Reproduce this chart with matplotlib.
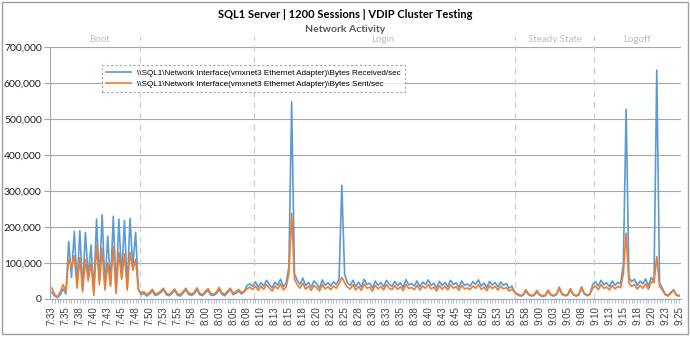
import matplotlib
matplotlib.use("Agg")
import matplotlib.pyplot as plt
from matplotlib.patches import Rectangle
from matplotlib.ticker import FuncFormatter

# samples every 30 s starting 7:33:00, values in thousands of bytes/sec
received_k = [
    18, 8, 4, 12, 28,
    14, 160, 60, 188, 40,
    190, 28, 185, 60, 150,
    18, 222, 50, 234, 30,
    175, 40, 230, 20, 222,
    60, 218, 30, 224, 90,
    185, 28, 12, 16, 8,
    14, 22, 10, 12, 18,
    26, 12, 9, 15, 24,
    11, 8, 16, 25, 13,
    10, 14, 26, 12, 9,
    17, 24, 11, 10, 15,
    27, 13, 9, 18, 26,
    12, 16, 22, 14, 20,
    38, 42, 35, 48, 33,
    45, 36, 52, 40, 31,
    47, 38, 55, 34, 44,
    90, 548, 70, 52, 41,
    58, 37, 46, 33, 50,
    42, 30, 53, 38, 45,
    36, 48, 40, 55, 316,
    68, 45, 38, 52, 35,
    47, 33, 55, 40, 44,
    31, 50, 38, 46, 34,
    52, 41, 35, 49, 37,
    45, 32, 54, 39, 43,
    36, 50, 34, 47, 40,
    53, 38, 44, 31, 49,
    37, 46, 34, 52, 40,
    45, 33, 50, 38, 42,
    35, 48, 41, 53, 36,
    44, 32, 49, 39, 46,
    34, 47, 38, 43, 30,
    36, 18, 12, 8, 10,
    22, 12, 8, 10, 20,
    10, 7, 9, 21, 11,
    8, 12, 28, 13, 9,
    10, 25, 12, 8, 11,
    30, 14, 9, 12, 40,
    48, 36, 52, 40, 45,
    34, 50, 38, 46, 42,
    95, 527, 60, 48, 55,
    38, 50, 42, 56, 36,
    60, 48, 636, 45, 30,
    14, 10, 18, 26, 12,
    10,
]

sent_k = [
    30, 12, 6, 20, 40,
    20, 110, 90, 120, 30,
    115, 20, 110, 50, 100,
    10, 150, 40, 140, 25,
    100, 35, 145, 15, 130,
    55, 125, 25, 130, 80,
    110, 25, 18, 20, 12,
    18, 27, 14, 16, 22,
    30, 16, 12, 19, 28,
    15, 12, 20, 30, 17,
    14, 18, 31, 16, 12,
    21, 29, 15, 13, 19,
    32, 17, 13, 22, 30,
    16, 20, 26, 18, 22,
    28, 33, 26, 36, 24,
    35, 27, 40, 30, 22,
    36, 28, 42, 25, 33,
    70, 238, 55, 40, 30,
    44, 27, 35, 24, 38,
    31, 22, 40, 28, 34,
    26, 36, 30, 42, 60,
    45, 33, 28, 40, 25,
    35, 24, 42, 30, 33,
    22, 38, 28, 35, 25,
    40, 30, 26, 37, 27,
    34, 23, 41, 29, 32,
    26, 38, 25, 36, 30,
    40, 28, 33, 22, 37,
    27, 35, 25, 39, 30,
    34, 24, 38, 28, 31,
    26, 36, 30, 40, 27,
    33, 23, 37, 29, 35,
    25, 36, 28, 32, 22,
    27, 20, 14, 10, 12,
    26, 14, 10, 12, 24,
    12, 9, 11, 25, 13,
    10, 14, 33, 15, 11,
    12, 29, 14, 10, 13,
    34, 16, 11, 14, 30,
    36, 26, 40, 30, 33,
    25, 38, 28, 35, 31,
    70, 183, 45, 35, 40,
    28, 38, 30, 42, 27,
    48, 45, 118, 35, 25,
    12, 8, 15, 25, 10,
    8,
]

time_labels = [
    "7:33", "7:35", "7:38", "7:40", "7:43", "7:45", "7:48", "7:50", "7:53", "7:55", "7:58",
    "8:00", "8:03", "8:05", "8:08", "8:10", "8:13", "8:15", "8:18", "8:20", "8:23", "8:25",
    "8:28", "8:30", "8:33", "8:35", "8:38", "8:40", "8:43", "8:45", "8:48", "8:50", "8:53",
    "8:55", "8:58", "9:00", "9:03", "9:05", "9:08", "9:10", "9:13", "9:15", "9:18", "9:20",
    "9:23", "9:25",
]

phase_names = ["Boot", "Login", "Steady State", "Logoff"]
phase_centers = [17.2, 118.6, 180.6, 210.0]
phase_bounds = [31.5, 72.4, 166.3, 194.3]

label_step = 5

received = [v * 1000 for v in received_k]
sent = [v * 1000 for v in sent_k]
x = list(range(len(received)))

blue = "#5B9BD5"
orange = "#ED7D31"
grid_col = "#A6A6A6"

fig = plt.figure(figsize=(6.9, 3.39), dpi=100)
ax = fig.add_axes([0.0725, 0.118, 0.9145, 0.743])

ax.plot(x, received, color=blue, lw=1.2,
        label="\\\\SQL1\\Network Interface(vmxnet3 Ethernet Adapter)\\Bytes Received/sec")
ax.plot(x, sent, color=orange, lw=1.2,
        label="\\\\SQL1\\Network Interface(vmxnet3 Ethernet Adapter)\\Bytes Sent/sec")

ax.set_xlim(-0.7, len(x) - 0.3)
ax.set_ylim(0, 700000)
ax.set_yticks(range(0, 700001, 100000))
ax.yaxis.set_major_formatter(FuncFormatter(lambda v, p: f"{int(v):,}"))
ax.grid(axis="y", color=grid_col, lw=0.8)
ax.set_axisbelow(True)

ax.set_xticks(x[::label_step])
ax.set_xticklabels(time_labels, rotation=90, fontsize=7, family="Liberation Sans", color="#404040")
ax.set_xticks(x, minor=True)
ax.tick_params(axis="x", which="both", length=3, color="#A0B4D0", width=0.6, pad=2)
ax.tick_params(axis="y", length=4, color=grid_col, labelsize=7.5, labelcolor="#202020", pad=2)
for t in ax.get_yticklabels():
    t.set_family("Lato")

for s in ["top", "right"]:
    ax.spines[s].set_visible(False)
ax.spines["left"].set_color(grid_col)
ax.spines["bottom"].set_color(grid_col)

# phase markers
for b in phase_bounds:
    ax.plot([b, b], [0, 730000], color="#D0D0D0", lw=0.9, ls=(0, (5, 4)), clip_on=False, zorder=1)
for name, c in zip(phase_names, phase_centers):
    ax.text(c, 722000, name, ha="center", va="center", fontsize=7, color="#BFBFBF", family="Lato")

leg = ax.legend(loc="upper left", bbox_to_anchor=(0.076, 0.945), frameon=True,
                fancybox=False, handlelength=3.0, borderpad=0.5, labelspacing=0.45,
                prop={"family": "Liberation Sans", "size": 5.9})
leg.get_frame().set_edgecolor("#909090")
leg.get_frame().set_linestyle((0, (2, 2)))
leg.get_frame().set_linewidth(0.8)

fig.text(0.5, 0.958, "SQL1 Server | 1200 Sessions | VDIP Cluster Testing", ha="center", va="center",
         fontsize=8, fontweight="bold", family="Lato", color="#000000")
fig.text(0.5, 0.914, "Network Activity", ha="center", va="center",
         fontsize=7.5, fontweight="bold", family="Lato", color="#595959")

fig.patches.append(Rectangle((0.003, 0.016), 0.994, 0.978, transform=fig.transFigure,
                             fill=False, ec="#A0A0A0", lw=1))

fig.savefig("out.png", dpi=100)
